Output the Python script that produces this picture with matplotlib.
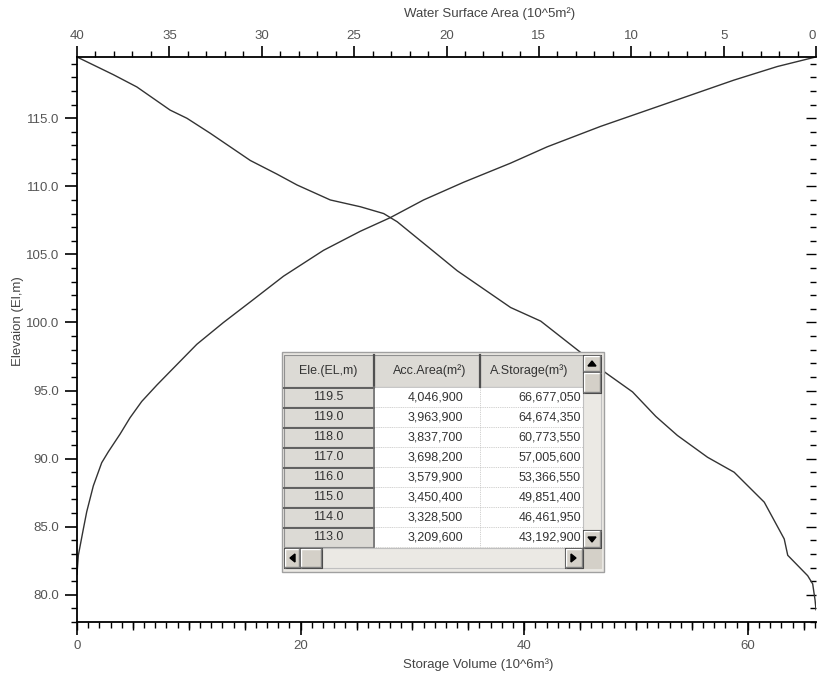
import matplotlib
matplotlib.use("Agg")
import matplotlib.pyplot as plt
from matplotlib.patches import Rectangle, Polygon
from matplotlib.ticker import MultipleLocator, FormatStrFormatter

plt.rcParams['font.family'] = ['Liberation Sans', 'DejaVu Sans']

# storage curve (bottom axis, 10^6 m3)
storage_elev = [81.5, 82.9, 84.8, 86.1, 88.0, 89.7, 90.5, 91.8, 93.0, 94.2, 95.4, 96.4,
                98.4, 100.0, 101.6, 103.4, 105.3, 106.7, 107.7, 109.0, 110.3, 111.7,
                112.9, 114.4, 116.1, 117.8, 118.8, 119.5]
storage_vol = [0.0, 0.12, 0.56, 0.87, 1.46, 2.21, 2.80, 3.85, 4.74, 5.79, 7.14, 8.33,
               10.72, 13.10, 15.64, 18.47, 22.05, 25.34, 28.02, 31.00, 34.58, 38.77,
               42.05, 46.82, 52.79, 58.75, 62.64, 66.07]

# water surface area curve (top axis, 10^5 m2)
area_elev = [119.5, 118.2, 117.3, 115.6, 115.0, 113.9, 111.9, 110.9, 110.1, 109.0,
             108.5, 108.0, 107.4, 105.0, 103.8, 101.1, 100.1, 97.8, 96.3, 94.9, 93.1,
             91.7, 90.1, 89.0, 86.8, 84.1, 82.9, 81.4, 80.8, 79.6, 78.9]
area_val = [40.0, 38.03, 36.76, 34.96, 34.05, 32.79, 30.62, 29.18, 28.09, 26.29,
            24.66, 23.40, 22.67, 20.50, 19.42, 16.53, 14.90, 12.74, 11.38, 9.93, 8.67,
            7.50, 5.87, 4.43, 2.80, 1.72, 1.53, 0.45, 0.18, 0.05, 0.0]

# table inside the chart
table_header = ["Ele.(EL,m)", "Acc.Area(m²)", "A.Storage(m³)"]
table_elev = ["119.5", "119.0", "118.0", "117.0", "116.0", "115.0", "114.0", "113.0"]
table_area = ["4,046,900", "3,963,900", "3,837,700", "3,698,200", "3,579,900",
              "3,450,400", "3,328,500", "3,209,600"]
table_storage = ["66,677,050", "64,674,350", "60,773,550", "57,005,600", "53,366,550",
                 "49,851,400", "46,461,950", "43,192,900"]

W, H = 817, 681
fig = plt.figure(figsize=(W / 100, H / 100), dpi=100)
ax = fig.add_axes([77 / W, 1 - 622 / H, (816 - 77) / W, (622 - 57) / H])

line_col = '#333333'
lab_col = '#555555'

ax.plot(storage_vol, storage_elev, color=line_col, lw=1.0)
ax.set_xlim(0, 66.1)
ax.set_ylim(78, 119.5)

ax.xaxis.set_major_locator(MultipleLocator(20))
ax.xaxis.set_minor_locator(MultipleLocator(1))
ax.yaxis.set_major_locator(MultipleLocator(5))
ax.yaxis.set_minor_locator(MultipleLocator(1))
ax.yaxis.set_major_formatter(FormatStrFormatter('%.1f'))
ax.tick_params(axis='both', which='major', direction='out', length=9, width=1.2,
               labelsize=9.5, labelcolor=lab_col, pad=4)
ax.tick_params(axis='both', which='minor', direction='out', length=4, width=1.0)
for s in ['right', 'top']:
    ax.spines[s].set_visible(False)
for s in ['left', 'bottom']:
    ax.spines[s].set_linewidth(1.3)

# medium ticks every 5 on the storage axis
sec = ax.secondary_xaxis('bottom')
sec.set_xticks(range(0, 66, 5))
sec.tick_params(length=6, width=1.0, labelbottom=False)
sec.spines['bottom'].set_visible(False)

# right side ticks pointing inward
secy = ax.secondary_yaxis('right')
secy.yaxis.set_major_locator(MultipleLocator(5))
secy.yaxis.set_minor_locator(MultipleLocator(1))
secy.tick_params(which='major', direction='in', length=7, width=1.0, labelright=False)
secy.tick_params(which='minor', direction='in', length=4, width=1.0)
secy.spines['right'].set_visible(False)

# top axis: water surface area, reversed
ax2 = ax.twiny()
ax2.plot(area_val, area_elev, color=line_col, lw=1.0)
ax2.set_xlim(40, 0)
ax2.set_xticks(range(40, -1, -5))
ax2.xaxis.set_minor_locator(MultipleLocator(1))
ax2.tick_params(axis='x', which='major', direction='out', length=8, width=1.2,
                labelsize=9.5, labelcolor=lab_col, pad=3)
ax2.tick_params(axis='x', which='minor', direction='out', length=4, width=1.0)
for s in ['left', 'right', 'bottom']:
    ax2.spines[s].set_visible(False)
ax2.spines['top'].set_linewidth(1.3)
ax2.xaxis.get_major_ticks()[-1].label2.set_horizontalalignment('right')

fig.text(490 / W, 1 - 14 / H, "Water Surface Area (10^5m²)", ha='center', va='center',
         fontsize=9.5, color='#444444')
fig.text(478 / W, 1 - 665 / H, "Storage Volume (10^6m³)", ha='center', va='center',
         fontsize=9.5, color='#444444')
fig.text(18 / W, 1 - 321 / H, "Elevaion (El,m)", ha='center', va='center',
         rotation=90, fontsize=9.5, color='#444444')

# overlay with the data grid widget, in pixel coordinates
tab = fig.add_axes([0, 0, 1, 1])
tab.set_zorder(10)
tab.set_xlim(0, W)
tab.set_ylim(H, 0)
tab.axis('off')
tab.patch.set_alpha(0)


def box(x0, y0, x1, y1, fc, ec='#808080', lw=0.8, z=1, ls='-'):
    tab.add_patch(Rectangle((x0, y0), x1 - x0, y1 - y0, facecolor=fc, edgecolor=ec,
                            lw=lw, zorder=z, linestyle=ls))


def button(x0, y0, x1, y1, z=6):
    box(x0, y0, x1, y1, '#d4d0c8', ec='#404040', lw=0.8, z=z)
    tab.plot([x0 + 1, x0 + 1, x1 - 1], [y1 - 1, y0 + 1, y0 + 1], color='white', lw=1, zorder=z + 0.1)
    tab.plot([x0 + 1, x1 - 1, x1 - 1], [y1 - 1, y1 - 1, y0 + 1], color='#808080', lw=1, zorder=z + 0.1)


gray = '#dcdad5'
box(282, 352, 604, 572, '#ebe9e4', ec='#a0a0a0', lw=1.0)

cols = [284, 374, 480, 583]
tsize = 9
tcol = '#333333'
# header
for i in range(3):
    box(cols[i], 355, cols[i + 1], 387, gray, ec='#909090', z=2)
tab.plot([374, 374], [355, 387], color='#505050', lw=1.6, zorder=3)
tab.plot([480, 480], [355, 387], color='#505050', lw=1.6, zorder=3)
tab.text(328, 371, table_header[0], ha='center', va='center', fontsize=tsize, color=tcol, zorder=4)
tab.text(430, 371, table_header[1], ha='center', va='center', fontsize=tsize, color=tcol, zorder=4)
tab.text(490, 371, table_header[2], ha='left', va='center', fontsize=tsize, color=tcol, zorder=4)

# rows
for r in range(len(table_elev)):
    y0 = 387 + 20 * r
    y1 = y0 + 20
    box(284, y0, 374, y1, gray, ec='#909090', z=2)
    tab.plot([284, 374], [y0 + 0.5, y0 + 0.5], color='#606060', lw=1.4, zorder=3)
    box(374, y0, 480, y1, 'white', ec='#c8c8c8', lw=0.6, z=2, ls=':')
    box(480, y0, 583, y1, 'white', ec='#c8c8c8', lw=0.6, z=2, ls=':')
    tab.text(328, y0 + 10, table_elev[r], ha='center', va='center', fontsize=tsize, color=tcol, zorder=4)
    tab.text(463, y0 + 10, table_area[r], ha='right', va='center', fontsize=tsize, color=tcol, zorder=4)
    tab.text(581, y0 + 10, table_storage[r], ha='right', va='center', fontsize=tsize, color=tcol, zorder=4)
tab.plot([374, 374], [387, 547], color='#707070', lw=1.2, zorder=3)

# vertical scroll bar
box(583, 355, 601, 548, '#ebe9e4', ec='#c0c0c0', z=5)
button(583, 355, 601, 372)
button(583, 372, 601, 393)
button(583, 530, 601, 548)
tab.add_patch(Polygon([[588, 366], [596, 366], [592, 361]], closed=True, color='black', zorder=7))
tab.add_patch(Polygon([[588, 537], [596, 537], [592, 542]], closed=True, color='black', zorder=7))

# horizontal scroll bar
box(284, 548, 583, 568, '#ebe9e4', ec='#c0c0c0', z=5)
button(284, 548, 300, 568)
button(300, 548, 322, 568)
button(565, 548, 583, 568)
box(583, 548, 601, 568, '#d4d0c8', ec='#d4d0c8', z=5)
tab.add_patch(Polygon([[295, 554], [295, 562], [290, 558]], closed=True, color='black', zorder=7))
tab.add_patch(Polygon([[571, 554], [571, 562], [576, 558]], closed=True, color='black', zorder=7))

fig.savefig("out.png", dpi=100)
